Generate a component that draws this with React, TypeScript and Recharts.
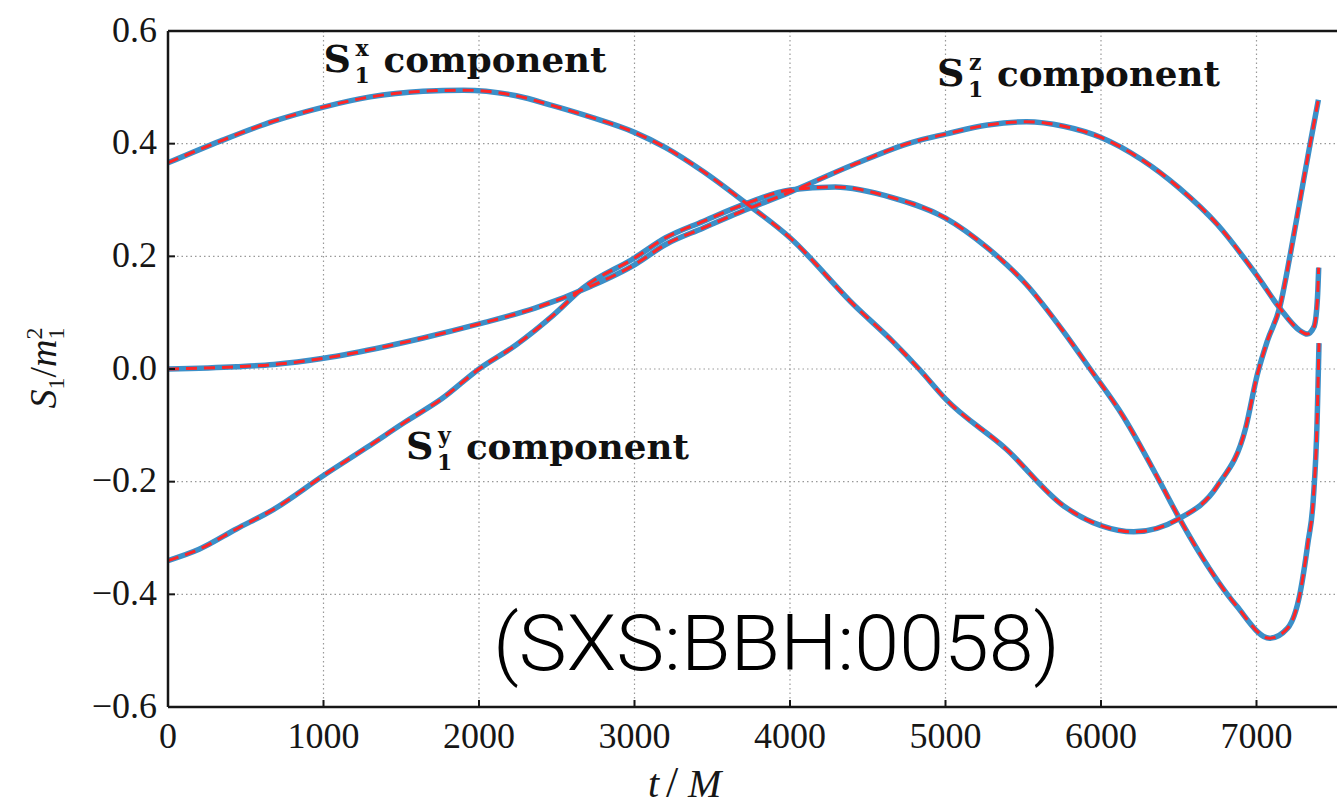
import {
  LineChart,
  Line,
  XAxis,
  YAxis,
  CartesianGrid,
  ReferenceDot,
  Customized,
} from 'recharts'

// Spin components of the first black hole, S1 / m1^2 against t / M
const sxTime = [0, 340, 680, 1000, 1300, 1640, 1900, 2240, 2480, 2720, 3000, 3200, 3440, 3700, 4000, 4410, 4660, 4830, 5000, 5390, 5760, 6000, 6210, 6500, 6750, 6930, 7005, 7070, 7150, 7215, 7280, 7345, 7398]
const sxValue = [0.366, 0.405, 0.44, 0.465, 0.483, 0.493, 0.495, 0.485, 0.467, 0.447, 0.42, 0.393, 0.351, 0.298, 0.233, 0.114, 0.049, 0.0, -0.053, -0.142, -0.243, -0.278, -0.289, -0.266, -0.207, -0.105, -0.01, 0.05, 0.11, 0.2, 0.3, 0.4, 0.478]

const syTime = [0, 200, 440, 680, 1000, 1280, 1520, 1760, 2000, 2240, 2480, 2670, 3000, 3200, 3440, 3720, 4000, 4290, 4660, 5000, 5270, 5520, 5760, 5930, 6140, 6380, 6490, 6630, 6870, 7085, 7200, 7280, 7330, 7365, 7390, 7398, 7402]
const syValue = [-0.34, -0.32, -0.284, -0.249, -0.189, -0.139, -0.095, -0.053, 0.0, 0.043, 0.096, 0.144, 0.197, 0.233, 0.262, 0.294, 0.318, 0.323, 0.304, 0.268, 0.215, 0.15, 0.066, 0.0, -0.083, -0.201, -0.258, -0.325, -0.42, -0.478, -0.46, -0.398, -0.31, -0.232, -0.09, 0.0, 0.046]

const szTime = [0, 440, 680, 1000, 1400, 1640, 2000, 2360, 2720, 3000, 3200, 3440, 3720, 4000, 4410, 4780, 5000, 5270, 5520, 5760, 6000, 6260, 6500, 6750, 7000, 7150, 7280, 7325, 7370, 7392, 7400]
const szValue = [0.0, 0.004, 0.008, 0.019, 0.04, 0.055, 0.08, 0.108, 0.147, 0.185, 0.221, 0.25, 0.283, 0.314, 0.363, 0.402, 0.417, 0.433, 0.439, 0.431, 0.411, 0.372, 0.322, 0.256, 0.167, 0.108, 0.068, 0.062, 0.075, 0.126, 0.18]

const xTicks = [0, 1000, 2000, 3000, 4000, 5000, 6000, 7000]
const yTicks = [-0.6, -0.4, -0.2, 0, 0.2, 0.4, 0.6]

const toPoints = (time: number[], value: number[]) =>
  time.map((t, i) => ({ t, v: value[i] }))

const series = [
  { name: 'x', data: toPoints(sxTime, sxValue) },
  { name: 'y', data: toPoints(syTime, syValue) },
  { name: 'z', data: toPoints(szTime, szValue) },
]

// where each annotation starts (text baseline), in data units
const componentLabels = [
  { axis: 'x', t: 1000, v: 0.527 },
  { axis: 'z', t: 4945, v: 0.503 },
  { axis: 'y', t: 1530, v: -0.159 },
]
const runName = '(SXS:BBH:0058)'

const SERIF = '"Liberation Serif", "DejaVu Serif", serif'
const BOLD_SERIF = '"DejaVu Serif", serif'
const INK = '#161616'
const BLUE = '#3b8fc8'
const RED = '#ff2626'

function XTick({ x, y, payload }: any) {
  return (
    <text x={x} y={y + 41} textAnchor="middle" fontFamily={SERIF} fontSize={36} fill={INK}>
      {payload.value}
    </text>
  )
}

function YTick({ x, y, payload }: any) {
  const label = Number(payload.value).toFixed(1).replace('-', '\u2212')
  return (
    <text x={x} y={y} dy="0.3em" textAnchor="end" fontFamily={SERIF} fontSize={36} fill={INK}>
      {label}
    </text>
  )
}

// bold S with stacked subscript 1 and component superscript, then the word
function ComponentLabel({ cx, cy, axis }: any) {
  return (
    <g fontFamily={BOLD_SERIF} fontWeight="bold" fill="#111">
      <text x={cx} y={cy} fontSize={38}>
        S
        <tspan x={cx + 31} dy={11} fontSize={22}>1</tspan>
        <tspan x={cx + 32} dy={-27} fontSize={22}>{axis}</tspan>
      </text>
      <text x={cx + 60} y={cy} fontSize={36} textLength={223} lengthAdjust="spacingAndGlyphs">
        component
      </text>
    </g>
  )
}

function RunLabel({ cx, cy }: any) {
  return (
    <text
      x={cx}
      y={cy}
      fontFamily="Roboto, 'Liberation Sans', sans-serif"
      fontWeight={300}
      fontSize={78}
      fill="#000"
      textLength={567}
      lengthAdjust="spacingAndGlyphs"
    >
      {runName}
    </text>
  )
}

function AxisTitles() {
  return (
    <g fontFamily={SERIF} fill={INK}>
      <text x={648} y={797} fontSize={40}>
        <tspan fontStyle="italic">t</tspan>
        <tspan x={666} fontSize={44}>/</tspan>
        <tspan x={688} fontStyle="italic">M</tspan>
      </text>
      <g transform="translate(56, 368) rotate(-90)">
        <text x={0} y={0} textAnchor="middle" fontSize={38}>
          <tspan fontStyle="italic">S</tspan>
          <tspan fontSize={24} dy={8}>1</tspan>
          <tspan dy={-8}>/</tspan>
          <tspan fontStyle="italic">m</tspan>
          <tspan fontSize={24} dy={8}>1</tspan>
          <tspan fontSize={24} dx={-12} dy={-22}>2</tspan>
        </text>
      </g>
    </g>
  )
}

export default function App() {
  return (
    <div
      style={{
        position: 'fixed',
        left: 0,
        top: 0,
        width: 1337,
        height: 808,
        overflow: 'hidden',
        background: '#fff',
      }}
    >
      <LineChart width={1412} height={808} margin={{ top: 30, right: 0, bottom: 0, left: 0 }}>
        <CartesianGrid stroke="#999" strokeDasharray="1.5 3" strokeWidth={1.2} />
        <XAxis
          type="number"
          dataKey="t"
          domain={[0, 8000]}
          ticks={xTicks}
          height={101}
          tick={<XTick />}
          tickSize={-7}
          tickMargin={7}
          axisLine={{ stroke: INK, strokeWidth: 2.5 }}
          tickLine={{ stroke: INK, strokeWidth: 2 }}
          allowDataOverflow
        />
        <XAxis
          xAxisId="top"
          orientation="top"
          type="number"
          dataKey="t"
          domain={[0, 8000]}
          ticks={xTicks}
          height={1}
          tick={() => <g />}
          tickSize={-7}
          axisLine={{ stroke: INK, strokeWidth: 2.5 }}
          tickLine={{ stroke: INK, strokeWidth: 2 }}
        />
        <YAxis
          type="number"
          domain={[-0.6, 0.6]}
          ticks={yTicks}
          width={168}
          tick={<YTick />}
          tickSize={-7}
          tickMargin={18}
          axisLine={{ stroke: INK, strokeWidth: 2.5 }}
          tickLine={{ stroke: INK, strokeWidth: 2 }}
          allowDataOverflow
        />
        {series.map((s) => (
          <Line
            key={`solid-${s.name}`}
            data={s.data}
            dataKey="v"
            type="monotone"
            stroke={BLUE}
            strokeWidth={5.5}
            dot={false}
            activeDot={false}
            isAnimationActive={false}
          />
        ))}
        {series.map((s) => (
          <Line
            key={`dashed-${s.name}`}
            data={s.data}
            dataKey="v"
            type="monotone"
            stroke={RED}
            strokeWidth={3}
            strokeDasharray="11 7"
            dot={false}
            activeDot={false}
            isAnimationActive={false}
          />
        ))}
        {componentLabels.map((c) => (
          <ReferenceDot
            key={c.axis}
            x={c.t}
            y={c.v}
            r={0}
            shape={(p: any) => <ComponentLabel cx={p.cx} cy={p.cy} axis={c.axis} />}
          />
        ))}
        <ReferenceDot x={2090} y={-0.534} r={0} shape={(p: any) => <RunLabel cx={p.cx} cy={p.cy} />} />
        <Customized component={<AxisTitles />} />
      </LineChart>
    </div>
  )
}
